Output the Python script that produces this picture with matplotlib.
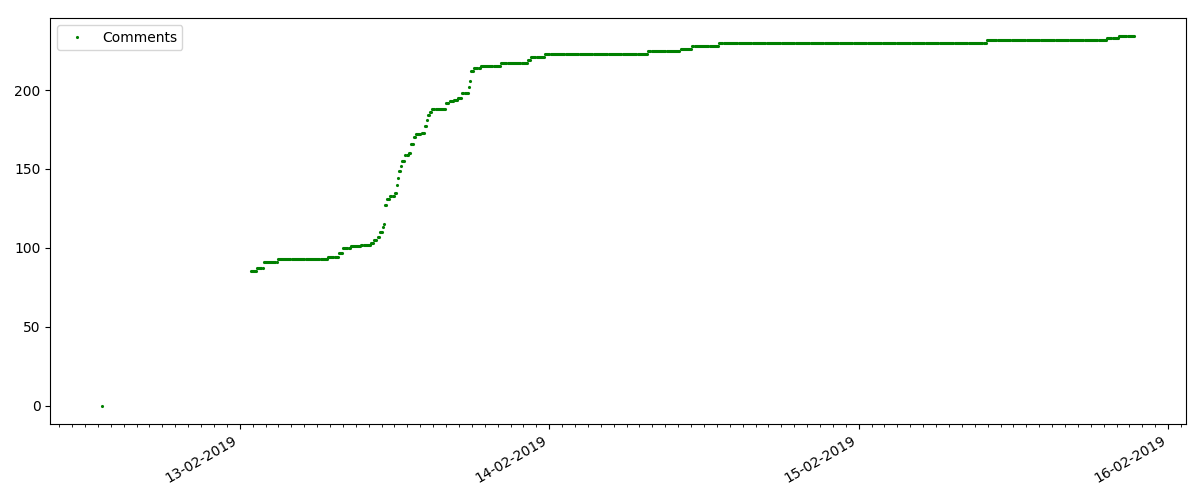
import numpy as np
import pandas as pd
from matplotlib import pyplot as plt
import matplotlib.dates as mdates

# first scrape, before the tracking really started
first_time = ["2019-02-12 13:19"]
first_count = [0]

# times where the comment count changed, and the new count
change_times = [
    "2019-02-13 00:51", "2019-02-13 01:18", "2019-02-13 01:48", "2019-02-13 02:52",
    "2019-02-13 06:51", "2019-02-13 07:38", "2019-02-13 07:57", "2019-02-13 08:34",
    "2019-02-13 09:26", "2019-02-13 10:08", "2019-02-13 10:26", "2019-02-13 10:41",
    "2019-02-13 10:50", "2019-02-13 11:02", "2019-02-13 11:10", "2019-02-13 11:13",
    "2019-02-13 11:23", "2019-02-13 11:41", "2019-02-13 11:57", "2019-02-13 12:09",
    "2019-02-13 12:14", "2019-02-13 12:20", "2019-02-13 12:28", "2019-02-13 12:36",
    "2019-02-13 12:51", "2019-02-13 13:02", "2019-02-13 13:15", "2019-02-13 13:27",
    "2019-02-13 13:38", "2019-02-13 14:02", "2019-02-13 14:17", "2019-02-13 14:29",
    "2019-02-13 14:36", "2019-02-13 14:45", "2019-02-13 14:56", "2019-02-13 15:58",
    "2019-02-13 16:12", "2019-02-13 16:36", "2019-02-13 16:55", "2019-02-13 17:16",
    "2019-02-13 17:43", "2019-02-13 17:47", "2019-02-13 17:52", "2019-02-13 18:08",
    "2019-02-13 18:38", "2019-02-13 20:16", "2019-02-13 22:20", "2019-02-13 22:36",
    "2019-02-13 23:38", "2019-02-14 07:41", "2019-02-14 10:09", "2019-02-14 11:04",
    "2019-02-14 13:09", "2019-02-15 09:54", "2019-02-15 19:15", "2019-02-15 20:11",
]
change_counts = [
    85, 87, 91, 93,
    94, 97, 100, 101,
    102, 103, 105, 107,
    110, 113, 115, 127,
    131, 133, 135, 140,
    144, 149, 152, 155,
    159, 160, 166, 170,
    172, 173, 177, 181,
    184, 186, 188, 192,
    193, 194, 195, 198,
    202, 206, 212, 214,
    215, 217, 219, 221,
    223, 225, 226, 228,
    230, 232, 233, 234,
]
last_scrape = "2019-02-15 21:21"

# scraper polled every 5 minutes
steps = pd.to_datetime(change_times)
polls = pd.date_range(steps[0], last_scrape, freq="5min")
idx = np.searchsorted(steps.values, polls.values, side="right") - 1
counts = np.array(change_counts)[idx]

comments = pd.Series(list(first_count) + list(counts),
                     index=pd.to_datetime(first_time).append(polls))

fig, ax = plt.subplots(figsize=(12, 5))
ax.plot(comments.index, comments.values, "g.", markersize=2.5, label="Comments")
ax.xaxis.set_major_locator(mdates.DayLocator())
ax.xaxis.set_major_formatter(mdates.DateFormatter("%d-%m-%Y"))
ax.xaxis.set_minor_locator(mdates.HourLocator())
ax.legend(loc="upper left")
fig.autofmt_xdate()
plt.subplots_adjust(left=0.042, right=0.988, top=0.964, bottom=0.152)
plt.savefig("out.png", dpi=100)
